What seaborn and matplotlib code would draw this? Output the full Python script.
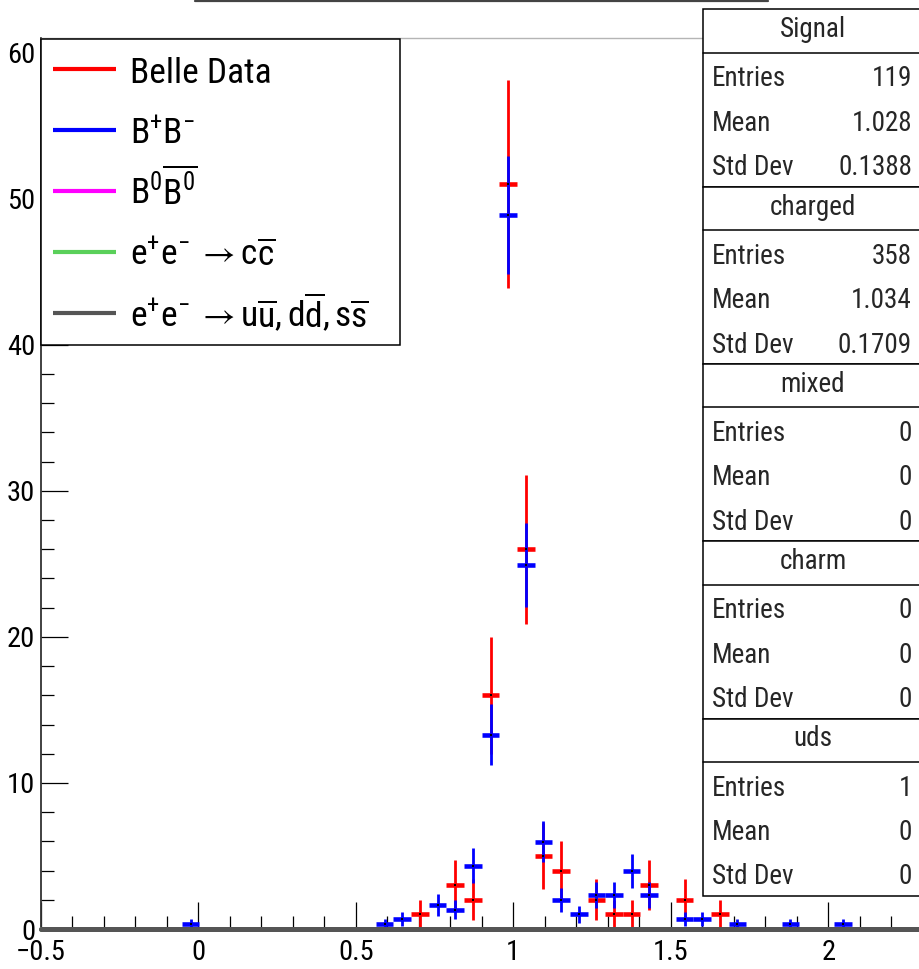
import numpy as np
import pandas as pd
import matplotlib
matplotlib.use("Agg")
import matplotlib.pyplot as plt
from matplotlib.lines import Line2D
from matplotlib.patches import Rectangle
from matplotlib.ticker import MultipleLocator, FixedLocator, FixedFormatter
import seaborn as sns

# ---------------------------------------------------------------- data
# Belle data (Signal): bin centres, counts and Poisson errors
data_x = [0.704, 0.816, 0.872, 0.928, 0.984, 1.040, 1.096, 1.152,
          1.264, 1.320, 1.376, 1.432, 1.544, 1.656]
data_y = [1, 3, 2, 16, 51, 26, 5, 4, 2, 1, 1, 3, 2, 1]
data_err = [1.0, 1.73, 1.41, 4.0, 7.14, 5.10, 2.24, 2.0,
            1.41, 1.0, 1.0, 1.73, 1.41, 1.0]

# B+B- Monte Carlo (charged), normalised to the data
bpbm_x = [-0.024, 0.592, 0.648, 0.760, 0.816, 0.872, 0.928, 0.984,
          1.040, 1.096, 1.152, 1.208, 1.264, 1.320, 1.376, 1.432,
          1.544, 1.600, 1.712, 1.880, 2.048]
bpbm_y = [0.33, 0.33, 0.66, 1.66, 1.33, 4.32, 13.30, 48.86,
          24.93, 5.98, 1.99, 1.00, 2.33, 2.33, 3.99, 2.33,
          0.66, 0.66, 0.33, 0.33, 0.33]
bpbm_err = [0.33, 0.33, 0.47, 0.74, 0.66, 1.20, 2.10, 4.03,
            2.88, 1.41, 0.81, 0.58, 0.88, 0.88, 1.15, 0.88,
            0.47, 0.47, 0.33, 0.33, 0.33]

# histogram binning shared by all samples
bin_width = 0.056
x_range = (-0.5, 2.3)
y_range = (0, 61)

# empty background histograms (mixed, charm, uds)
empty_counts = [0.0] * 51

legend_labels = [
    "Belle Data",
    r"$\mathrm{B^{+}B^{-}}$",
    r"$\mathrm{B^{0}\overline{B^{0}}}$",
    r"$\mathrm{e^{+}e^{-}\;\rightarrow c\overline{c}}$",
    r"$\mathrm{e^{+}e^{-}\;\rightarrow u\overline{u},d\overline{d},s\overline{s}}$",
]
legend_colors = ["#ff0000", "#0000ff", "#ff00ff", "#5ad05a", "#555555"]

stats_titles = ["Signal", "charged", "mixed", "charm", "uds"]
stats_entries = ["119", "358", "0", "0", "1"]
stats_means = ["1.028", "1.034", "0", "0", "0"]
stats_stds = ["0.1388", "0.1709", "0", "0", "0"]

x_ticks = [-0.5, 0, 0.5, 1, 1.5, 2]
x_tick_labels = ["\u22120.5", "0", "0.5", "1", "1.5", "2"]
y_ticks = [0, 10, 20, 30, 40, 50, 60]
y_tick_labels = ["0", "10", "20", "30", "40", "50", "60"]

# ---------------------------------------------------------------- style
sns.set_theme(style="ticks")
FONT = ["Roboto Condensed", "Liberation Sans", "DejaVu Sans"]
plt.rcParams["font.family"] = FONT
plt.rcParams["mathtext.fontset"] = "custom"
plt.rcParams["mathtext.rm"] = "Roboto Condensed"
plt.rcParams["mathtext.it"] = "Roboto Condensed:italic"
plt.rcParams["mathtext.bf"] = "Roboto Condensed:bold"
plt.rcParams["mathtext.fallback"] = "stixsans"

W, H = 920, 969
fig = plt.figure(figsize=(W / 100, H / 100), dpi=100)


def fx(px):
    return px / W


def fy(py):
    return 1 - py / H


ax_left, ax_right, ax_top, ax_bottom = 40.7, 922.7, 38.0, 929.0
ax = fig.add_axes([fx(ax_left), fy(ax_bottom), (ax_right - ax_left) / W,
                   (ax_bottom - ax_top) / H])
ax.set_facecolor("white")

# empty histograms drawn as flat lines along zero
edges = np.linspace(x_range[0], x_range[1], len(empty_counts))
for color in legend_colors[2:]:
    df = pd.DataFrame({"x": edges, "y": empty_counts})
    sns.lineplot(data=df, x="x", y="y", ax=ax, color=color, lw=3.6,
                 estimator=None, drawstyle="steps-post", clip_on=False,
                 zorder=6)


def draw_points(xs, ys, errs, color):
    ax.errorbar(xs, ys, xerr=bin_width / 2, fmt="none", ecolor=color,
                elinewidth=3.3, capsize=0, zorder=3)
    ax.errorbar(xs, ys, yerr=errs, fmt="none", ecolor=color,
                elinewidth=2.0, capsize=0, zorder=3.5)


draw_points(data_x, data_y, data_err, legend_colors[0])
draw_points(bpbm_x, bpbm_y, bpbm_err, legend_colors[1])

centres = pd.DataFrame({"x": data_x + bpbm_x, "y": data_y + bpbm_y})
sns.scatterplot(data=centres, x="x", y="y", ax=ax, color="black", marker="s",
                s=1.5, linewidth=0, zorder=4)

ax.set_xlim(*x_range)
ax.set_ylim(*y_range)
ax.set_xlabel("")
ax.set_ylabel("")
ax.xaxis.set_major_locator(FixedLocator(x_ticks))
ax.xaxis.set_major_formatter(FixedFormatter(x_tick_labels))
ax.yaxis.set_major_locator(FixedLocator(y_ticks))
ax.yaxis.set_major_formatter(FixedFormatter(y_tick_labels))
ax.xaxis.set_minor_locator(MultipleLocator(0.1))
ax.yaxis.set_minor_locator(MultipleLocator(2))
ax.tick_params(axis="both", which="major", direction="in", length=19.5,
               width=0.9, color="black", labelsize=20.5)
ax.tick_params(axis="both", which="minor", direction="in", length=9.4,
               width=0.9, color="black")
ax.tick_params(axis="x", which="major", pad=7.5)
ax.tick_params(axis="y", which="major", pad=4)
ax.tick_params(top=False, right=False, which="both")
for lab in ax.get_xticklabels() + ax.get_yticklabels():
    lab.set_color("black")

ax.spines["left"].set_color("#333333")
ax.spines["left"].set_linewidth(1.3)
ax.spines["top"].set_color("#b5b5b5")
ax.spines["top"].set_linewidth(1.0)
ax.spines["right"].set_visible(False)
ax.spines["bottom"].set_color("#555555")
ax.spines["bottom"].set_linewidth(1.0)

# ---------------------------------------------------------------- legend box
fig.add_artist(Rectangle((fx(41), fy(345)), (400 - 41) / W, (345 - 39) / H,
                         transform=fig.transFigure, facecolor="white",
                         edgecolor="black", lw=1.1, zorder=10))
for i, (lab, col) in enumerate(zip(legend_labels, legend_colors)):
    base = 83 + 61 * i
    fig.add_artist(Line2D([fx(53), fx(116)], [fy(base - 14)] * 2,
                          transform=fig.transFigure, color=col, lw=3.0,
                          solid_capstyle="butt", zorder=11))
    fig.text(fx(130), fy(base), lab, ha="left", va="baseline",
             fontsize=25.5, color="black", zorder=11)

# ---------------------------------------------------------------- stats boxes
box_left, box_right, box_h = 703, 926, 177.3
for i, title in enumerate(stats_titles):
    top = 9.3 + box_h * i
    fig.add_artist(Rectangle((fx(box_left), fy(top + box_h)),
                             (box_right - box_left) / W, box_h / H,
                             transform=fig.transFigure, facecolor="white",
                             edgecolor="black", lw=1.1, zorder=10))
    fig.add_artist(Line2D([fx(box_left), fx(box_right)], [fy(top + 43.5)] * 2,
                          transform=fig.transFigure, color="black", lw=1.1,
                          zorder=11))
    fig.text(fx(813), fy(top + 28), title, ha="center", va="baseline",
             fontsize=19.5, zorder=12)
    rows = [("Entries", stats_entries[i]), ("Mean", stats_means[i]),
            ("Std Dev", stats_stds[i])]
    for j, (name, val) in enumerate(rows):
        yb = top + 77 + 44.5 * j
        fig.text(fx(712), fy(yb), name, ha="left", va="baseline",
                 fontsize=19.5, zorder=12)
        fig.text(fx(912), fy(yb), val, ha="right", va="baseline",
                 fontsize=19.5, zorder=12)

# lower edge of the title pad
fig.add_artist(Line2D([fx(195), fx(768)], [fy(1.2)] * 2,
                      transform=fig.transFigure, color="#444444", lw=1.6,
                      zorder=11))

fig.savefig("out.png", dpi=100)
